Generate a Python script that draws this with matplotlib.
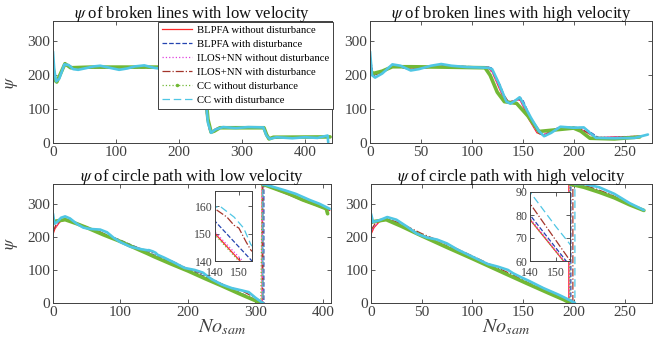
import numpy as np
import matplotlib
matplotlib.use("Agg")
import matplotlib.pyplot as plt
from matplotlib.lines import Line2D

plt.rcParams["font.family"] = ["Liberation Serif", "DejaVu Serif"]
plt.rcParams["mathtext.fontset"] = "stix"

LABELS = ["BLPFA without disturbance", "BLPFA with disturbance",
          "ILOS+NN without disturbance", "ILOS+NN with disturbance",
          "CC without disturbance", "CC with disturbance"]
TITLES = [r"$\psi$ of broken lines with low velocity",
          r"$\psi$ of broken lines with high velocity",
          r"$\psi$ of circle path with low velocity",
          r"$\psi$ of circle path with high velocity"]

# ---- broken lines, low velocity (x, psi) ----
TL_RED = [(0, 245), (2, 200), (5, 180), (10, 195), (18, 235), (25, 228), (35, 222), (100, 223),
          (200, 223), (236, 222), (240, 180), (244, 80), (249, 35), (252, 32), (258, 42), (268, 46),
          (300, 45), (334, 45), (338, 30), (343, 14), (348, 16), (380, 18), (440, 18)]
TL_BLUE = [(0, 220), (3, 185), (6, 178), (12, 200), (19, 236), (26, 228), (35, 222), (120, 222),
           (237, 222), (241, 170), (245, 75), (250, 33), (254, 33), (262, 45), (300, 46), (335, 46),
           (340, 25), (344, 13), (350, 17), (440, 19)]
TL_MAG = [(0, 235), (2, 198), (5, 181), (11, 198), (18, 234), (25, 228), (35, 223), (150, 223),
          (236, 223), (240, 175), (244, 78), (249, 34), (253, 33), (260, 43), (300, 45), (334, 45),
          (338, 28), (343, 14), (349, 17), (440, 18)]
TL_BROWN = [(0, 210), (3, 183), (6, 180), (12, 202), (19, 236), (27, 226), (40, 222), (160, 223),
            (237, 222), (241, 172), (245, 72), (250, 32), (255, 34), (263, 45), (300, 46),
            (335, 45), (339, 26), (344, 13), (350, 17), (440, 19)]
TL_GREEN = [(0, 225), (3, 185), (6, 180), (12, 205), (19, 234), (28, 222), (60, 224), (120, 224),
            (200, 224), (237, 224), (241, 170), (246, 70), (251, 32), (256, 35), (265, 45),
            (335, 45), (339, 25), (343, 12), (350, 17), (440, 18)]
TL_CYAN = [(0, 270), (2, 215), (5, 182), (10, 190), (18, 232), (25, 230), (32, 218), (40, 216),
           (50, 220), (65, 226), (75, 228), (90, 222), (105, 216), (118, 220), (130, 226),
           (145, 229), (160, 222), (175, 218), (190, 224), (205, 222), (225, 218), (237, 220),
           (241, 160), (246, 60), (251, 30), (258, 40), (270, 47), (290, 44), (310, 47),
           (334, 46), (339, 22), (344, 12), (355, 17), (380, 14), (400, 17), (420, 15),
           (436, 22), (437, 2)]

# ---- broken lines, high velocity ----
TR_RED = [(0, 250), (3, 200), (12, 210), (24, 228), (40, 218), (70, 226), (115, 224), (120, 210),
          (130, 140), (136, 120), (146, 128), (148, 124), (156, 70), (164, 30), (170, 24),
          (185, 45), (205, 44), (222, 16), (265, 20)]
TR_BLUE = [(0, 260), (3, 200), (10, 205), (22, 230), (40, 216), (70, 228), (116, 224), (119, 222),
           (128, 170), (134, 122), (138, 118), (148, 133), (150, 128), (160, 60), (168, 25),
           (172, 20), (180, 35), (190, 48), (210, 45), (225, 15), (265, 18)]
TR_MAG = [(0, 245), (3, 202), (12, 211), (24, 228), (40, 219), (70, 226), (115, 224), (120, 208),
          (130, 142), (136, 121), (146, 127), (148, 123), (156, 72), (164, 32), (170, 25),
          (185, 46), (205, 44), (222, 17), (265, 20)]
TR_BROWN = [(0, 215), (3, 198), (11, 207), (23, 229), (40, 217), (70, 227), (116, 224),
            (121, 212), (130, 150), (136, 121), (147, 130), (149, 126), (158, 66), (166, 28),
            (171, 22), (183, 42), (205, 45), (224, 15), (265, 19)]
TR_GREEN = [(0, 215), (3, 205), (12, 212), (22, 225), (40, 225), (70, 224), (113, 222), (118, 200),
            (125, 150), (132, 122), (144, 117), (155, 80), (166, 34), (183, 39), (200, 44),
            (207, 35), (216, 14), (240, 12), (265, 18)]
TR_CYAN = [(0, 270), (2, 200), (5, 193), (12, 205), (22, 232), (30, 228), (40, 214), (48, 218),
           (60, 228), (70, 233), (80, 228), (95, 224), (116, 222), (120, 218), (126, 180),
           (134, 122), (138, 116), (143, 126), (147, 135), (150, 120), (158, 75), (166, 35),
           (171, 20), (178, 30), (187, 48), (200, 45), (210, 46), (216, 30), (222, 15), (240, 14),
           (260, 15), (273, 25)]

# ---- circle path, low velocity ----
BL_RED = [(0, 208), (3, 225), (10, 245), (18, 252), (35, 240), (50, 228), (75, 207), (100, 187),
          (125, 164), (140, 150), (150.5, 140), (175, 118), (200, 97), (225, 75), (250, 52),
          (275, 30), (300, 8), (310, 0), (310, 360), (340, 335), (370, 310), (410, 280)]
BL_BLUE = [(0, 240), (5, 246), (18, 254), (35, 242), (50, 230), (75, 210), (100, 190), (125, 168),
           (140, 154.5), (155.5, 140), (175, 123), (200, 102), (225, 80), (250, 57), (275, 33),
           (300, 10), (312.5, 0), (312.5, 360), (340, 337), (370, 312), (410, 282)]
BL_MAG = [(0, 212), (3, 228), (10, 246), (18, 252), (35, 240), (50, 228), (75, 207), (100, 187),
          (125, 165), (140, 150.5), (150.5, 141), (175, 119), (200, 98), (225, 76), (250, 53),
          (275, 30), (300, 8), (310, 0), (310, 360), (340, 336), (370, 311), (410, 281)]
BL_BROWN = [(0, 215), (4, 235), (12, 250), (18, 255), (35, 240), (50, 228), (70, 215), (85, 200),
            (100, 187), (120, 170), (140, 159), (145, 156), (148, 153), (150, 152), (153, 147),
            (155, 144), (175, 128), (200, 103), (220, 90), (240, 68), (260, 48), (280, 37),
            (300, 15), (311, 0), (311, 360), (340, 337), (370, 313), (395, 296), (410, 284)]
BL_GREEN = [(0, 245), (5, 248), (18, 252), (35, 240), (50, 228), (75, 206), (100, 186), (125, 163),
            (140, 149.5), (150, 140), (175, 118), (200, 97), (225, 74), (250, 52), (275, 29),
            (300, 7), (308, 0), (310, 360), (330, 345), (350, 330), (370, 312), (390, 297),
            (405, 285), (407, 270)]
BL_CYAN = [(0, 270), (2, 240), (6, 245), (12, 258), (18, 262), (25, 256), (35, 240), (45, 228),
           (55, 224), (70, 222), (80, 214), (90, 197), (100, 184), (115, 170), (130, 163),
           (140, 159.5), (142, 160), (148, 156), (152, 152), (155, 146), (165, 137), (180, 122),
           (195, 106), (210, 100), (222, 92), (235, 72), (250, 56), (265, 45), (280, 38),
           (290, 33), (300, 16), (311, 0), (311, 360), (325, 352), (345, 340), (360, 330),
           (380, 312), (395, 300), (410, 285)]

# ---- circle path, high velocity ----
BR_RED = [(0, 208), (3, 228), (8, 245), (15, 253), (30, 234), (50, 205), (75, 170), (100, 136),
          (120, 107), (140, 78), (153, 60), (175, 31), (190, 10), (195, 0), (195, 360),
          (210, 352), (230, 332), (250, 305), (269, 280)]
BR_BLUE = [(0, 240), (5, 248), (15, 255), (30, 236), (50, 206), (75, 172), (100, 138), (120, 110),
           (140, 80), (154, 60), (175, 33), (190, 13), (197, 0), (197, 360), (215, 350),
           (235, 328), (255, 298), (269, 280)]
BR_MAG = [(0, 212), (3, 230), (8, 246), (15, 253), (30, 234), (50, 205), (75, 170), (100, 136),
          (120, 107), (140, 78.5), (153, 60.5), (175, 31), (190, 10), (195.5, 0), (195.5, 360),
          (210, 352), (230, 332), (250, 305), (269, 280)]
BR_BROWN = [(0, 220), (4, 240), (15, 256), (30, 240), (50, 210), (75, 178), (100, 142),
            (120, 113), (140, 85), (155, 61), (175, 36), (190, 15), (199, 0), (199, 360),
            (215, 352), (235, 330), (255, 300), (269, 280)]
BR_GREEN = [(0, 245), (4, 247), (15, 252), (30, 232), (50, 203), (75, 168), (100, 134), (120, 106),
            (140, 78), (153, 60), (175, 30), (190, 10), (196, 0), (196, 360), (210, 350),
            (225, 335), (240, 318), (255, 297), (269, 280)]
BR_CYAN = [(0, 270), (2, 245), (8, 250), (16, 260), (25, 252), (35, 232), (45, 210), (55, 198),
           (65, 192), (75, 180), (85, 162), (100, 140), (115, 118), (125, 110), (135, 100),
           (140, 90), (150, 75), (155, 68), (170, 45), (185, 25), (195, 10), (201, 0), (201, 360),
           (210, 360), (225, 350), (240, 330), (255, 302), (269, 281)]

PANELS = [
    [TL_RED, TL_BLUE, TL_MAG, TL_BROWN, TL_GREEN, TL_CYAN],
    [TR_RED, TR_BLUE, TR_MAG, TR_BROWN, TR_GREEN, TR_CYAN],
    [BL_RED, BL_BLUE, BL_MAG, BL_BROWN, BL_GREEN, BL_CYAN],
    [BR_RED, BR_BLUE, BR_MAG, BR_BROWN, BR_GREEN, BR_CYAN],
]

COLORS = ["#ff2a2a", "#2444b0", "#e040e0", "#a3342a", "#72b835", "#4fc6e4"]
STYLES = ["-", "--", ":", "-.", ":", (0, (6, 3))]
THICK_LW = [None, None, None, None, 2.6, 1.9]
GRAY = "#404040"


def style_axes(ax, fs=11):
    ax.tick_params(direction="in", length=3, width=0.6, top=True, right=True,
                   labelsize=fs, colors=GRAY, pad=2)
    for s in ax.spines.values():
        s.set_color(GRAY)
        s.set_linewidth(0.7)


def draw(ax, series, thin=False):
    for pts, c, ls, tlw in zip(series, COLORS, STYLES, THICK_LW):
        x, y = np.array(pts, dtype=float).T
        if tlw and not thin:
            # thick marker-like trace, but no thick vertical at the 360 -> 0 wrap
            cut = np.where(np.abs(np.diff(y)) > 180)[0] + 1
            for xs, ys in zip(np.split(x, cut), np.split(y, cut)):
                ax.plot(xs, ys, color=c, lw=tlw, solid_capstyle="round",
                        solid_joinstyle="round")
            if len(cut):
                ax.plot(x, y, color=c, ls=ls, lw=0.9)
        else:
            ax.plot(x, y, color=c, ls=ls, lw=0.9)


fig = plt.figure(figsize=(6.54, 3.56), dpi=100)
W, H = 654, 356


def px_axes(l, t, r, b):
    return fig.add_axes([l / W, 1 - b / H, (r - l) / W, (b - t) / H])


boxes = [(53, 21, 332, 143), (370, 21, 652, 143), (53, 184, 331, 303), (371, 184, 652, 303)]
xlims = [(0, 443), (0, 277), (0, 412), (0, 277)]
xticks = [np.arange(0, 401, 100), np.arange(0, 251, 50), np.arange(0, 401, 100), np.arange(0, 251, 50)]

axes = []
for i, (box, xl, xt) in enumerate(zip(boxes, xlims, xticks)):
    ax = px_axes(*box)
    draw(ax, PANELS[i])
    ax.set_xlim(*xl)
    ax.set_ylim(0, 360)
    ax.set_xticks(xt)
    ax.set_yticks([0, 100, 200, 300])
    style_axes(ax)
    ax.set_title(TITLES[i], fontsize=12, pad=2, color="#111111")
    axes.append(ax)

for ax in (axes[0], axes[2]):
    ax.set_ylabel(r"$\psi$", fontsize=12, color=GRAY, labelpad=5)
axes[2].set_xlabel(r"$No_{sam}$", fontsize=14.5, color=GRAY)
axes[3].set_xlabel(r"$No_{sam}$", fontsize=14.5, color=GRAY)
axes[2].xaxis.set_label_coords(0.61, -0.12)
axes[3].xaxis.set_label_coords(0.48, -0.12)

# legend
handles = []
for lab, c, ls in zip(LABELS, COLORS, STYLES):
    mk = "." if lab == "CC without disturbance" else None
    handles.append(Line2D([], [], color=c, ls=ls, lw=0.9, marker=mk, markersize=3))
leg = axes[0].legend(handles, LABELS, loc="upper right", bbox_to_anchor=(333 / W, 1 - 22 / H),
                     bbox_transform=fig.transFigure, fontsize=7.7, handlelength=2.8,
                     handletextpad=0.5, borderpad=0.35, labelspacing=0.42, fancybox=False,
                     framealpha=1, edgecolor=GRAY, borderaxespad=0)
leg.get_frame().set_linewidth(0.7)
leg.set_zorder(10)

# insets
ins1 = px_axes(215, 191, 252, 261)
draw(ins1, PANELS[2], thin=True)
ins1.set_xlim(140, 155.5)
ins1.set_ylim(140, 165.5)
ins1.set_xticks([140, 150])
ins1.set_yticks([140, 150, 160])
style_axes(ins1, fs=8.5)

ins2 = px_axes(530, 192, 570, 261)
draw(ins2, PANELS[3], thin=True)
ins2.set_xlim(140, 155.5)
ins2.set_ylim(60, 90)
ins2.set_xticks([140, 150])
ins2.set_yticks([60, 70, 80, 90])
style_axes(ins2, fs=8.5)
for ins in (ins1, ins2):
    ins.tick_params(axis="x", pad=4)

fig.savefig("out.png", dpi=100)
